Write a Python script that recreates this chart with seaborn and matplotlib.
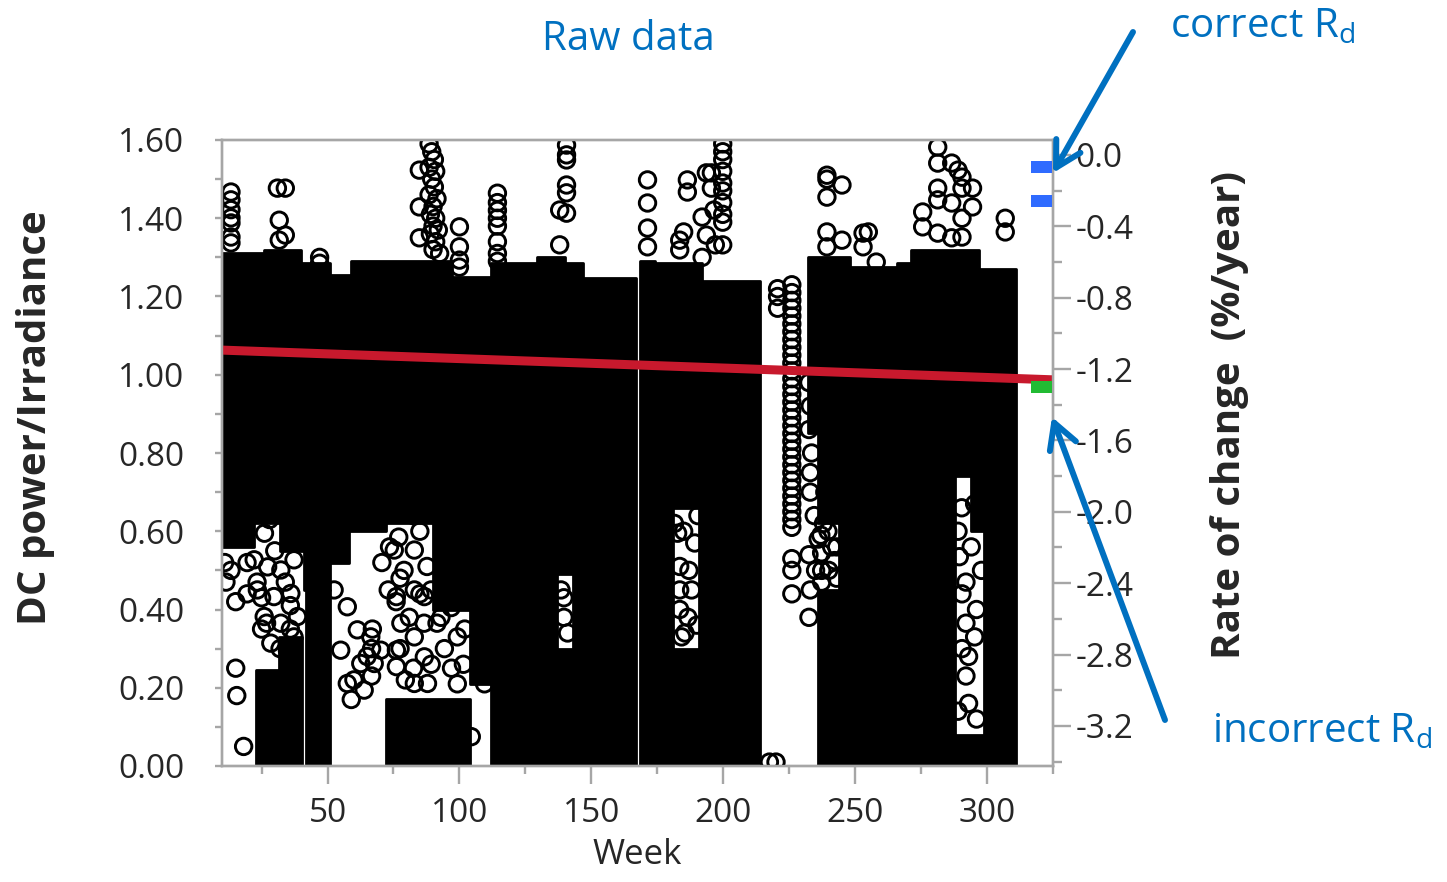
import matplotlib
matplotlib.use("Agg")
import matplotlib.pyplot as plt
import seaborn as sns
from matplotlib.ticker import MultipleLocator, FuncFormatter

# ---- values ----
# solid black part of each measuring period; value i holds from weeks[i] to weeks[i+1]
seg_a_weeks = [10, 22, 26, 32, 40, 41, 51, 58, 59, 72, 90, 97, 104, 112, 129.5, 137, 140, 143, 147, 167]
seg_a_top = [1.31, 1.31, 1.32, 1.32, 1.285, 1.285, 1.255, 1.255, 1.29, 1.29, 1.29, 1.25, 1.25, 1.285, 1.30, 1.30,
             1.285, 1.285, 1.247, 1.247]
seg_a_bottom = [0.56, 0.62, 0.62, 0.55, 0.55, 0.45, 0.52, 0.60, 0.60, 0.62, 0.40, 0.40, 0.21, 0.0, 0.0, 0.49,
                0.49, 0.0, 0.0, 0.0]

low_a_weeks = [23, 31.5, 40.5]
low_a_top = [0.245, 0.33, 0.33]
low_a2_weeks = [42, 51]
low_a2_top = [0.45, 0.45]
low_a3_weeks = [72, 104]
low_a3_top = [0.17, 0.17]
low_a4_weeks = [137, 143]
low_a4_top = [0.30, 0.30]

seg_b_weeks = [168.3, 174, 181, 191, 192, 214]
seg_b_top = [1.29, 1.285, 1.285, 1.285, 1.24, 1.24]
seg_b_bottom = [0.0, 0.0, 0.66, 0.0, 0.0, 0.0]
low_b_weeks = [181, 191]
low_b_top = [0.30, 0.30]

seg_d_weeks = [232, 236, 244, 248, 266]
seg_d_top = [1.30, 1.30, 1.30, 1.275, 1.275]
seg_d_bottom = [0.85, 0.62, 0.0, 0.0, 0.0]
low_d_weeks = [236, 244]
low_d_top = [0.45, 0.45]

seg_e_weeks = [266, 271, 288, 294, 297, 299, 311]
seg_e_top = [1.285, 1.32, 1.32, 1.32, 1.27, 1.27, 1.27]
seg_e_bottom = [0.0, 0.0, 0.74, 0.60, 0.60, 0.0, 0.0]
low_e_weeks = [288, 299]
low_e_top = [0.08, 0.08]

# single points above the band
high_weeks = [13.4, 13.4, 13.4, 13.4, 13.4, 13.4, 13.4, 31, 34, 31.7, 34, 31.7, 47, 47,
              84.8, 84.8, 84.8,
              88.5, 89.5, 90.5, 88.5, 91, 89.5, 90.5, 88.5, 91.5, 90, 89, 91, 90, 92, 89, 91, 90, 92.5,
              100, 100, 100, 100,
              114.4, 114.4, 114.4, 114.4, 114.4, 114.4, 114.4, 114.4,
              138, 138, 140.6, 140.6, 140.6, 140.6, 140.6, 140.6,
              171.3, 171.3, 171.3, 171.3, 186.4, 186.4, 185, 183.5, 183.5, 193.6, 195.5,
              199.8, 199.8, 199.8, 199.8, 199.8, 199.8, 199.8, 199.8, 199.8,
              195.5, 196.5, 192, 193.6, 192, 197, 199.8,
              239.3, 239.3, 239.3, 239.3, 239.3, 245, 245, 253, 253, 255, 258,
              281.3, 281.3, 281.3, 281.3, 281.3, 286.6, 286.6, 286.6, 289, 290.5, 290.5, 290.5, 290.5,
              294.5, 294.5, 275.6, 275.6, 306.9, 306.9]
high_values = [1.467, 1.447, 1.422, 1.401, 1.388, 1.352, 1.337, 1.477, 1.477, 1.395, 1.357, 1.344, 1.30, 1.285,
               1.523, 1.429, 1.35,
               1.59, 1.57, 1.55, 1.53, 1.52, 1.50, 1.48, 1.46, 1.45, 1.43, 1.41, 1.40, 1.38, 1.37, 1.36, 1.34, 1.32, 1.31,
               1.378, 1.327, 1.293, 1.275,
               1.464, 1.44, 1.42, 1.40, 1.38, 1.34, 1.31, 1.29,
               1.332, 1.421, 1.587, 1.562, 1.549, 1.485, 1.465, 1.413,
               1.498, 1.439, 1.375, 1.327, 1.498, 1.467, 1.365, 1.344, 1.319, 1.516, 1.516,
               1.59, 1.57, 1.55, 1.52, 1.49, 1.47, 1.44, 1.41, 1.39,
               1.477, 1.421, 1.403, 1.357, 1.30, 1.332, 1.332,
               1.51, 1.50, 1.454, 1.365, 1.327, 1.485, 1.344, 1.362, 1.327, 1.365, 1.288,
               1.582, 1.541, 1.477, 1.447, 1.362, 1.541, 1.439, 1.35, 1.523, 1.505, 1.477, 1.40, 1.352,
               1.477, 1.429, 1.416, 1.378, 1.40, 1.365]

# single points in the thinner lower parts
low_weeks = [13.4, 15.2, 15.2, 15.6, 18.2, 19.5, 25, 25, 26.9, 34, 35.9, 32, 60, 59, 67, 66.7, 66.7, 65,
             76, 77, 82.6, 77.5, 81, 77.5, 82.6, 30, 26.1, 28, 19.5, 23.3, 35.9, 70.6, 73, 87.7, 86.6, 11, 11.5,
             22.2, 27.3, 32.3, 37.3, 23.4, 29.7, 36.1, 26.0, 32.3, 38.6, 28.5, 34.8, 37.3,
             52.5, 57.5, 61.3, 66.4, 70.2, 55.0, 62.6, 67.7, 57.5, 63.9,
             76.1, 82.9, 80.3, 75.3, 82.9, 76.1, 82.9, 86.7, 77.8, 76.1, 82.9, 86.7, 76.1, 82.9, 87.9,
             73.5, 79, 85, 93, 97, 102, 79.5, 85,
             89.3, 91.5, 96.9, 99.2, 94.3, 101.5, 89.3, 99.2, 104.5, 109.5, 109.5, 139.6, 139.6, 141, 138.5,
             182.7, 183.5, 183.5, 184.2, 183.5, 189.2, 190.4, 186.6, 187, 181.5, 185, 188, 190, 185.5,
             232.5, 233, 232.5, 233.5, 233, 232.5, 233, 232.5,
             237.3, 237.3, 237.3, 241.1, 242.2, 239.7, 243, 237,
             233, 234.5, 236, 238.5, 240, 242.5, 238, 243, 240, 235,
             289.5, 290.5, 292, 295.3, 292, 289, 295.3, 290.4, 297.9, 293,
             289, 292, 294, 296, 296, 293, 290.5]
low_values = [0.50, 0.42, 0.25, 0.18, 0.05, 0.44, 0.43, 0.35, 0.365, 0.47, 0.41, 0.30, 0.22, 0.17, 0.35, 0.30, 0.23, 0.28,
              0.42, 0.585, 0.64, 0.48, 0.38, 0.30, 0.25, 0.55, 0.595, 0.63, 0.52, 0.47, 0.35, 0.52, 0.45, 0.51, 0.365, 0.52, 0.47,
              0.527, 0.509, 0.501, 0.527, 0.45, 0.433, 0.441, 0.382, 0.365, 0.382, 0.314, 0.296, 0.33,
              0.45, 0.407, 0.348, 0.33, 0.296, 0.296, 0.262, 0.262, 0.211, 0.194,
              0.705, 0.714, 0.646, 0.552, 0.552, 0.433, 0.45, 0.433, 0.365, 0.296, 0.33, 0.279, 0.254, 0.211, 0.211,
              0.56, 0.50, 0.60, 0.38, 0.25, 0.35, 0.22, 0.44,
              0.45, 0.365, 0.405, 0.33, 0.30, 0.26, 0.26, 0.21, 0.075, 0.28, 0.21, 0.43, 0.38, 0.34, 0.45,
              0.595, 0.51, 0.45, 0.33, 0.40, 0.57, 0.64, 0.38, 0.50, 0.62, 0.60, 0.45, 0.36, 0.34,
              0.98, 0.92, 0.86, 0.80, 0.75, 0.54, 0.45, 0.38,
              0.545, 0.47, 0.50, 0.56, 0.525, 0.60, 0.48, 0.59,
              0.70, 0.64, 0.58, 0.70, 0.76, 0.68, 0.62, 0.56, 0.50, 0.50,
              0.535, 0.44, 0.365, 0.33, 0.23, 0.14, 0.67, 0.66, 0.50, 0.28,
              0.60, 0.47, 0.56, 0.40, 0.12, 0.16, 0.30]

# the short, sparse period between the two gaps
gap_weeks = [220.6, 220.6, 220.6] + [226] * 35 + [217.5, 220]
gap_values = [1.22, 1.20, 1.17,
              1.23, 1.21, 1.19, 1.17, 1.15, 1.13, 1.11, 1.09, 1.07, 1.05, 1.03, 1.01, 0.99, 0.97, 0.95, 0.93,
              0.91, 0.89, 0.87, 0.85, 0.83, 0.81, 0.79, 0.77, 0.75, 0.73, 0.71, 0.69, 0.67, 0.65, 0.63, 0.61,
              0.53, 0.50, 0.44,
              0.01, 0.01]

# linear trend
trend_weeks = [10, 325]
trend_values = [1.063, 0.987]

# degradation rates on the right axis
rate_weeks = [320.5, 320.5, 320.5]
rate_values = [-0.07, -0.26, -1.30]
rate_kind = ["correct", "correct", "incorrect"]


def steps(weeks, vals):
    # turn step edges into a polygon outline with vertical sides
    xs, ys = [], []
    for i in range(len(weeks) - 1):
        xs += [weeks[i], weeks[i + 1]]
        ys += [vals[i], vals[i]]
    return xs, ys


# ---- plot ----
sns.set_style("white")
plt.rcParams["font.family"] = ["Open Sans", "DejaVu Sans"]
plt.rcParams["mathtext.fontset"] = "custom"
plt.rcParams["mathtext.rm"] = "Open Sans"

fig = plt.figure(figsize=(14.47, 8.82), dpi=100)
ax = fig.add_axes([222 / 1447, 1 - 766 / 882, 831 / 1447, 626 / 882])
ax2 = ax.twinx()

band_sets = [(seg_a_weeks, seg_a_bottom, seg_a_top), (seg_b_weeks, seg_b_bottom, seg_b_top),
             (seg_d_weeks, seg_d_bottom, seg_d_top), (seg_e_weeks, seg_e_bottom, seg_e_top),
             (low_a_weeks, [0] * len(low_a_weeks), low_a_top), (low_a2_weeks, [0, 0], low_a2_top),
             (low_a3_weeks, [0, 0], low_a3_top), (low_a4_weeks, [0, 0], low_a4_top),
             (low_b_weeks, [0, 0], low_b_top), (low_d_weeks, [0, 0], low_d_top),
             (low_e_weeks, [0, 0], low_e_top)]
for w, lo, hi in band_sets:
    xs, y_lo = steps(w, lo)
    _, y_hi = steps(w, hi)
    ax.fill_between(xs, y_lo, y_hi, facecolor="black", edgecolor="black",
                    linewidth=2, joinstyle="round", zorder=2)

circle_kw = dict(s=140, marker="o", facecolor="none", edgecolor="black", linewidth=2.1, zorder=3, ax=ax)
sns.scatterplot(x=high_weeks, y=high_values, **circle_kw)
sns.scatterplot(x=low_weeks, y=low_values, **circle_kw)
sns.scatterplot(x=gap_weeks, y=gap_values, **circle_kw)

sns.lineplot(x=trend_weeks, y=trend_values, color="#C8192D", linewidth=6.5, ax=ax, zorder=4)

rect = [(-1, -0.57), (1, -0.57), (1, 0.57), (-1, 0.57), (-1, -0.57)]
sns.scatterplot(x=rate_weeks, y=rate_values, hue=rate_kind,
                palette={"correct": "#2F6BFF", "incorrect": "#22BB33"},
                marker=rect, s=230, linewidth=0, legend=False, ax=ax2, zorder=5)

ax.set_xlim(10, 325)
ax.set_ylim(0, 1.6)
ax2.set_ylim(-3.425, 0.084)

ax.xaxis.set_major_locator(MultipleLocator(50))
ax.xaxis.set_minor_locator(MultipleLocator(25))
ax.yaxis.set_major_locator(MultipleLocator(0.2))
ax.yaxis.set_minor_locator(MultipleLocator(0.1))
ax.yaxis.set_major_formatter(FuncFormatter(lambda v, p: f"{v:.2f}"))
ax2.yaxis.set_major_locator(MultipleLocator(0.4))
ax2.yaxis.set_minor_locator(MultipleLocator(0.2))
ax2.yaxis.set_major_formatter(FuncFormatter(lambda v, p: f"{round(v, 1) + 0.0:.1f}"))

grey = "#A6A6A6"
for a in (ax, ax2):
    for sp in a.spines.values():
        sp.set_color(grey)
        sp.set_linewidth(1.7)
        sp.set_visible(True)

ax.tick_params(axis="x", which="major", length=13, width=1.7, color=grey, labelsize=24, pad=9, bottom=True)
ax.tick_params(axis="x", which="minor", length=6, width=1.7, color=grey, bottom=True)
ax.tick_params(axis="y", which="both", length=5, width=1.7, color=grey, labelsize=24, pad=22, left=True)
ax2.tick_params(axis="y", which="major", length=13, width=1.7, color=grey, labelsize=24, pad=3, right=True)
ax2.tick_params(axis="y", which="minor", length=6.5, width=1.7, color=grey, right=True)

ax.set_xlabel("Week", fontsize=25, labelpad=6)
ax.set_ylabel("DC power/Irradiance", fontsize=29, fontweight="bold")
ax.yaxis.set_label_coords(-0.201, 0.557)
ax2.set_ylabel("Rate of change  (%/year)", fontsize=29, fontweight="bold")
ax2.yaxis.set_label_coords(1.189, 0.5615)

blue = "#0070C0"
fig.text(628 / 1447, 1 - 40 / 882, "Raw data", color=blue, fontsize=29, ha="center", va="center")
fig.text(1170 / 1447, 1 - 37 / 882, r"correct R$_{\mathrm{d}}$", color=blue, fontsize=29, ha="left", va="baseline")
fig.text(1212 / 1447, 1 - 742 / 882, r"incorrect R$_{\mathrm{d}}$", color=blue, fontsize=29, ha="left", va="baseline")

arrow_kw = dict(arrowstyle="->,head_length=0.9,head_width=0.5", color=blue, lw=4.3, mutation_scale=20,
                shrinkA=0, shrinkB=0)
ax2.annotate("", xy=(1053 / 1447, 1 - 173 / 882), xycoords="figure fraction",
             xytext=(1133 / 1447, 1 - 32 / 882), textcoords="figure fraction", arrowprops=arrow_kw)
ax2.annotate("", xy=(1052 / 1447, 1 - 417 / 882), xycoords="figure fraction",
             xytext=(1165 / 1447, 1 - 720 / 882), textcoords="figure fraction", arrowprops=arrow_kw)

fig.savefig("out.png", dpi=100)
